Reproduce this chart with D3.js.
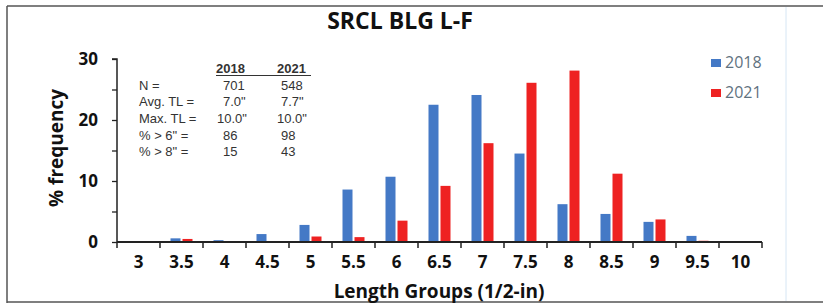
<!DOCTYPE html>
<html><head><meta charset="utf-8">
<script src="https://cdn.jsdelivr.net/npm/d3@7/dist/d3.min.js"></script>
<style>body{margin:0;background:#fff}svg{display:block}</style>
</head><body>
<svg id="c" width="823" height="303"></svg>
<script>
const categories = ["3","3.5","4","4.5","5","5.5","6","6.5","7","7.5","8","8.5","9","9.5","10"];
const series2018 = [0,0.6,0.3,1.3,2.8,8.6,10.7,22.5,24.1,14.5,6.2,4.6,3.3,1.0,0];
const series2021 = [0,0.5,0,0,0.9,0.8,3.5,9.2,16.2,26.1,28.1,11.2,3.7,0.2,0.1];
const seriesNames = ["2018","2021"];
const yTicks = [0,10,20,30];
const statLabels = ["N =","Avg. TL =","Max. TL =","% > 6\" =","% > 8\" ="];
const stat2018 = ["701","7.0\"","10.0\"","86","15"];
const stat2021 = ["548","7.7\"","10.0\"","98","43"];

const colors = ["#4479c6","#ee2222"];
const svg = d3.select("#c");
const font = "'Open Sans', 'Liberation Sans', sans-serif";
const tfont = "'Liberation Sans', Arial, sans-serif";

// frame
svg.append("line").attr("x1",7).attr("x2",823).attr("y1",6).attr("y2",6).attr("stroke","#555").attr("stroke-width",1.5);
svg.append("line").attr("x1",7).attr("x2",7).attr("y1",6).attr("y2",303).attr("stroke","#555").attr("stroke-width",1.5);
svg.append("line").attr("x1",7).attr("x2",823).attr("y1",302).attr("y2",302).attr("stroke","#555").attr("stroke-width",1.5);
svg.append("line").attr("x1",786).attr("x2",786).attr("y1",7).attr("y2",301).attr("stroke","#d6e6f4").attr("stroke-width",1);

const L=117, R=762, T=59, B=242;
const x = d3.scaleBand().domain(categories).range([L,R]).paddingInner(0).paddingOuter(0);
const y = d3.scaleLinear().domain([0,30]).range([B,T]);
const bw = 10, gap = 2;

const g = svg.append("g");
categories.forEach((c,i)=>{
  const cx = x(c)+x.bandwidth()/2;
  [series2018[i],series2021[i]].forEach((v,k)=>{
    if(v<=0) return;
    const x0 = k===0 ? cx-gap/2-bw : cx+gap/2;
    g.append("rect").attr("x",x0).attr("width",bw).attr("y",y(v)).attr("height",B-y(v)).attr("fill",colors[k]);
  });
});

// y axis
const yAxis = d3.axisLeft(y).tickValues(d3.range(0,31,5)).tickSize(5).tickFormat(d=>yTicks.includes(d)?d:"");
const ya = svg.append("g").attr("transform",`translate(${L},0)`).call(yAxis);
ya.select(".domain").attr("stroke","#222").attr("stroke-width",1.5).attr("d",`M-5,${T}H0V${B}`);
ya.selectAll(".tick line").attr("stroke","#222").attr("stroke-width",1.3);
ya.selectAll(".tick text").attr("font-family",font).attr("font-weight","bold").attr("font-size",17).attr("fill","#111").attr("x",-19);

// x axis
const xAxis = d3.axisBottom(x).tickSize(0).tickPadding(14);
const xa = svg.append("g").attr("transform",`translate(0,${B})`).call(xAxis);
xa.select(".domain").attr("stroke","#222").attr("stroke-width",2).attr("d",`M${L},0H${R}`);
xa.selectAll(".tick text").attr("font-family",font).attr("font-weight","bold").attr("font-size",17).attr("fill","#111");
const edges = categories.map(c=>x(c)).concat([R]);
svg.append("g").selectAll("line").data(edges).join("line")
  .attr("x1",d=>d).attr("x2",d=>d).attr("y1",B).attr("y2",B+6).attr("stroke","#222").attr("stroke-width",1.5);

// titles
svg.append("text").attr("x",400).attr("y",29).attr("text-anchor","middle").attr("font-family",font)
  .attr("font-weight","bold").attr("font-size",23).attr("fill","#111").text("SRCL BLG L-F");
svg.append("text").attr("transform","translate(63,148) rotate(-90)").attr("text-anchor","middle").attr("font-family",font)
  .attr("font-weight","bold").attr("font-size",19).attr("fill","#111").text("% frequency");
svg.append("text").attr("x",439).attr("y",298).attr("text-anchor","middle").attr("font-family",font)
  .attr("font-weight","bold").attr("font-size",19).attr("fill","#111").text("Length Groups (1/2-in)");

// legend
seriesNames.forEach((n,k)=>{
  const ly = 59 + k*30;
  svg.append("rect").attr("x",711).attr("y",ly).attr("width",10).attr("height",8).attr("fill",colors[k]);
  svg.append("text").attr("x",725).attr("y",ly+9).attr("font-family",font).attr("font-size",16).attr("fill","#5f7280").text(n);
});

// stats table
const st = svg.append("g").attr("font-family",tfont).attr("font-size",13).attr("fill","#333");
st.append("text").attr("x",216).attr("y",73).attr("font-weight","bold").text("2018");
st.append("text").attr("x",277).attr("y",73).attr("font-weight","bold").text("2021");
st.append("line").attr("x1",216).attr("x2",311).attr("y1",75.5).attr("y2",75.5).attr("stroke","#333").attr("stroke-width",1);
statLabels.forEach((s,i)=>{
  const yy = 89.5 + i*16.7;
  st.append("text").attr("x",139).attr("y",yy).text(s);
  st.append("text").attr("x",stat2018[i].length>4?217:223).attr("y",yy).text(stat2018[i]);
  st.append("text").attr("x",stat2021[i].length>4?277:281).attr("y",yy).text(stat2021[i]);
});
</script>
</body></html>
